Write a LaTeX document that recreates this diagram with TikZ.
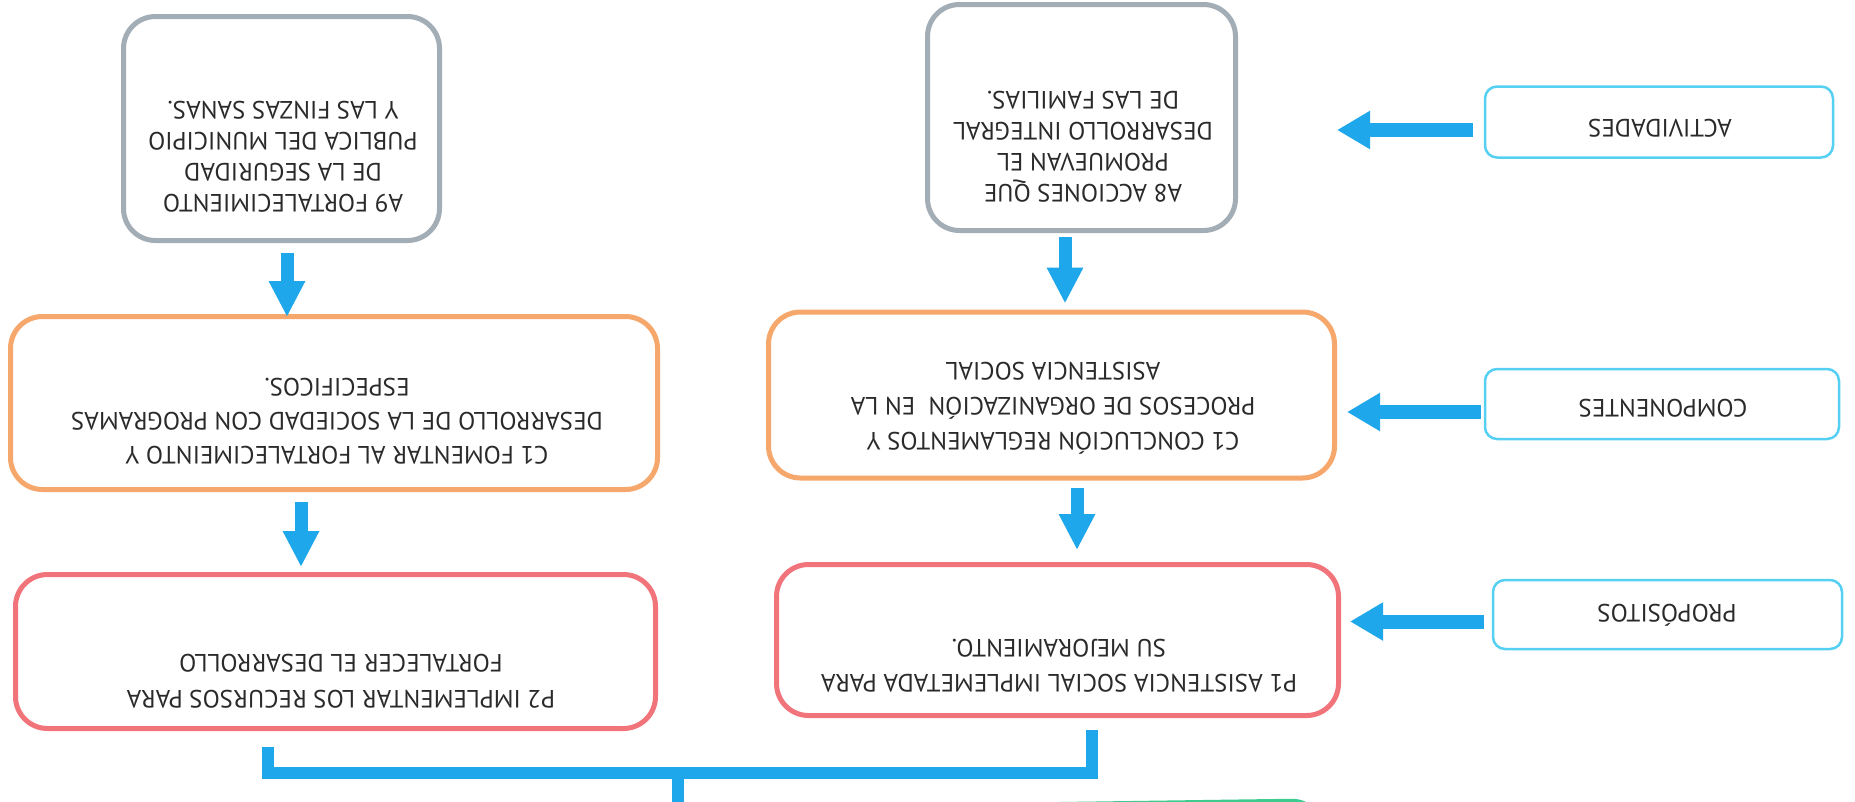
\documentclass[tikz,border=0pt]{standalone}
\usepackage{fontspec}
\setmainfont{PT Sans}
\usetikzlibrary{arrows.meta,calc}
\definecolor{boxgray}{HTML}{A3ADB6}
\definecolor{boxorange}{HTML}{F6A76B}
\definecolor{boxred}{HTML}{F0747A}
\definecolor{tagcyan}{HTML}{55D0F2}
\definecolor{arrblue}{HTML}{1EA7EA}
\definecolor{fingreen}{HTML}{3DCB8E}
\definecolor{txtc}{HTML}{2A2A2A}
\begin{document}
\begin{tikzpicture}[x=1pt,y=-1pt,
  bigbox/.style={draw, line width=5pt, rounded corners=32pt, inner sep=0pt, fill=white},
  tagbox/.style={draw=tagcyan, line width=2.5pt, rounded corners=12pt, inner sep=0pt, fill=white},
  txt/.style={rotate=180, align=center, text=txtc, inner sep=0pt},
  arr/.style={draw=arrblue, line width=13pt, -{Triangle[width=34pt,length=36pt]}},
  harr/.style={draw=arrblue, line width=14pt, -{Triangle[width=36pt,length=33pt]}},
  conn/.style={draw=arrblue, line width=12pt, line join=miter}]
\fill[white] (0,0) rectangle (1855,801);
\useasboundingbox (0,0) rectangle (1855,801);

% boxes
\node[bigbox, draw=boxgray, minimum width=316pt, minimum height=224pt] (a9) at (281.5,128.5) {};
\node[bigbox, draw=boxgray, minimum width=308pt, minimum height=226pt] (a8) at (1081.5,117.5) {};
\node[bigbox, draw=boxorange, minimum width=647pt, minimum height=173pt] (c1l) at (334,403) {};
\node[bigbox, draw=boxorange, minimum width=566pt, minimum height=166pt] (c1r) at (1051.5,395) {};
\node[bigbox, draw=boxred, minimum width=640pt, minimum height=154pt] (p2) at (335.5,651.5) {};
\node[bigbox, draw=boxred, minimum width=562pt, minimum height=151pt] (p1) at (1057.5,640) {};
\node[tagbox, minimum width=348pt, minimum height=71pt] (act) at (1659,122) {};
\node[tagbox, minimum width=354pt, minimum height=70pt] (comp) at (1662,404) {};
\node[tagbox, minimum width=349pt, minimum height=69pt] (prop) at (1667.5,614.5) {};
\node[draw=fingreen, line width=5pt, rounded corners=30pt, minimum width=1100pt, minimum height=200pt, rotate=0.8] (grn) at (773,908.5) {};

% texts
\node[txt, font=\fontsize{25}{31}\selectfont] (a9t) at (283,156.5)
  {A9 FORTALECIMIENTO\\DE LA SEGURIDAD\\PUBLICA DEL MUNICIPIO\\Y LAS FINZAS SANAS.};
\node[txt, font=\fontsize{25}{31}\selectfont] (a8t) at (1083,147)
  {A8 ACCIONES QUE\\PROMUEVAN EL\\DESARROLLO INTEGRAL\\DE LAS FAMILIAS.};
\node[txt, font=\fontsize{25}{34}\selectfont] (c1lt) at (337,421)
  {C1 FOMENTAR AL FORTALECIMEINTO Y\\DESARROLLO DE LA SOCIEDAD CON PROGRAMAS\\ESPECIFICOS.};
\node[txt, font=\fontsize{25}{35}\selectfont] (c1rt) at (1053,408)
  {C1 CONCLUCIÓN REGLAMENTOS Y\\PROCESOS DE ORGANIZACIÓN~~EN LA\\ASISTENCIA SOCIAL};
\node[txt, font=\fontsize{25}{36}\selectfont] (p2t) at (341,681)
  {P2 IMPLEMENTAR LOS RECURSOS PARA\\FORTALECER EL DESARROLLO};
\node[txt, font=\fontsize{25}{35}\selectfont] (p1t) at (1059,666)
  {P1 ASISTENCIA SOCIAL IMPLEMETADA PARA\\SU MEJORAMIENTO.};
\node[txt, font=\fontsize{25}{30}\selectfont] (actt) at (1660,128) {ACTIVIDADES};
\node[txt, font=\fontsize{25}{30}\selectfont] (compt) at (1663,408) {COMPONENTES};
\node[txt, font=\fontsize{25}{30}\selectfont] (propt) at (1667,615) {PROPÓSITOS};

% vertical arrows
\draw[arr] ($(a9.south)+(5.5,10)$) -- ($(a9.south |- c1l.north)+(5.5,3)$);
\draw[arr] ($(c1l.south)+(-33,10)$) -- ($(c1l.south |- p2.north)+(-33,-5)$);
\draw[arr] ($(a8.south)+(-16.5,4)$) -- ($(a8.south |- c1r.north)+(-16.5,-6)$);
\draw[arr] ($(c1r.south)+(25.5,7)$) -- ($(c1r.south |- p1.north)+(25.5,-12)$);

% horizontal arrows
\draw[harr] ($(act.west)+(-11,8)$) -- ($(act.west -| c1r.east)+(0,8)$);
\draw[harr] ($(comp.west)+(-3,8)$) -- ($(comp.west -| c1r.east)+(10,8)$);
\draw[harr] ($(prop.west)+(-8,7)$) -- ($(prop.west -| p1.east)+(9,7)$);

% bottom connector
\coordinate (bus) at (678,773);
\draw[conn] ($(p2.south)+(-67.5,16)$) |- (bus) -| ($(p1.south)+(34.5,12)$);
\draw[conn] (bus) -- (bus |- grn.north);
\end{tikzpicture}
\end{document}
